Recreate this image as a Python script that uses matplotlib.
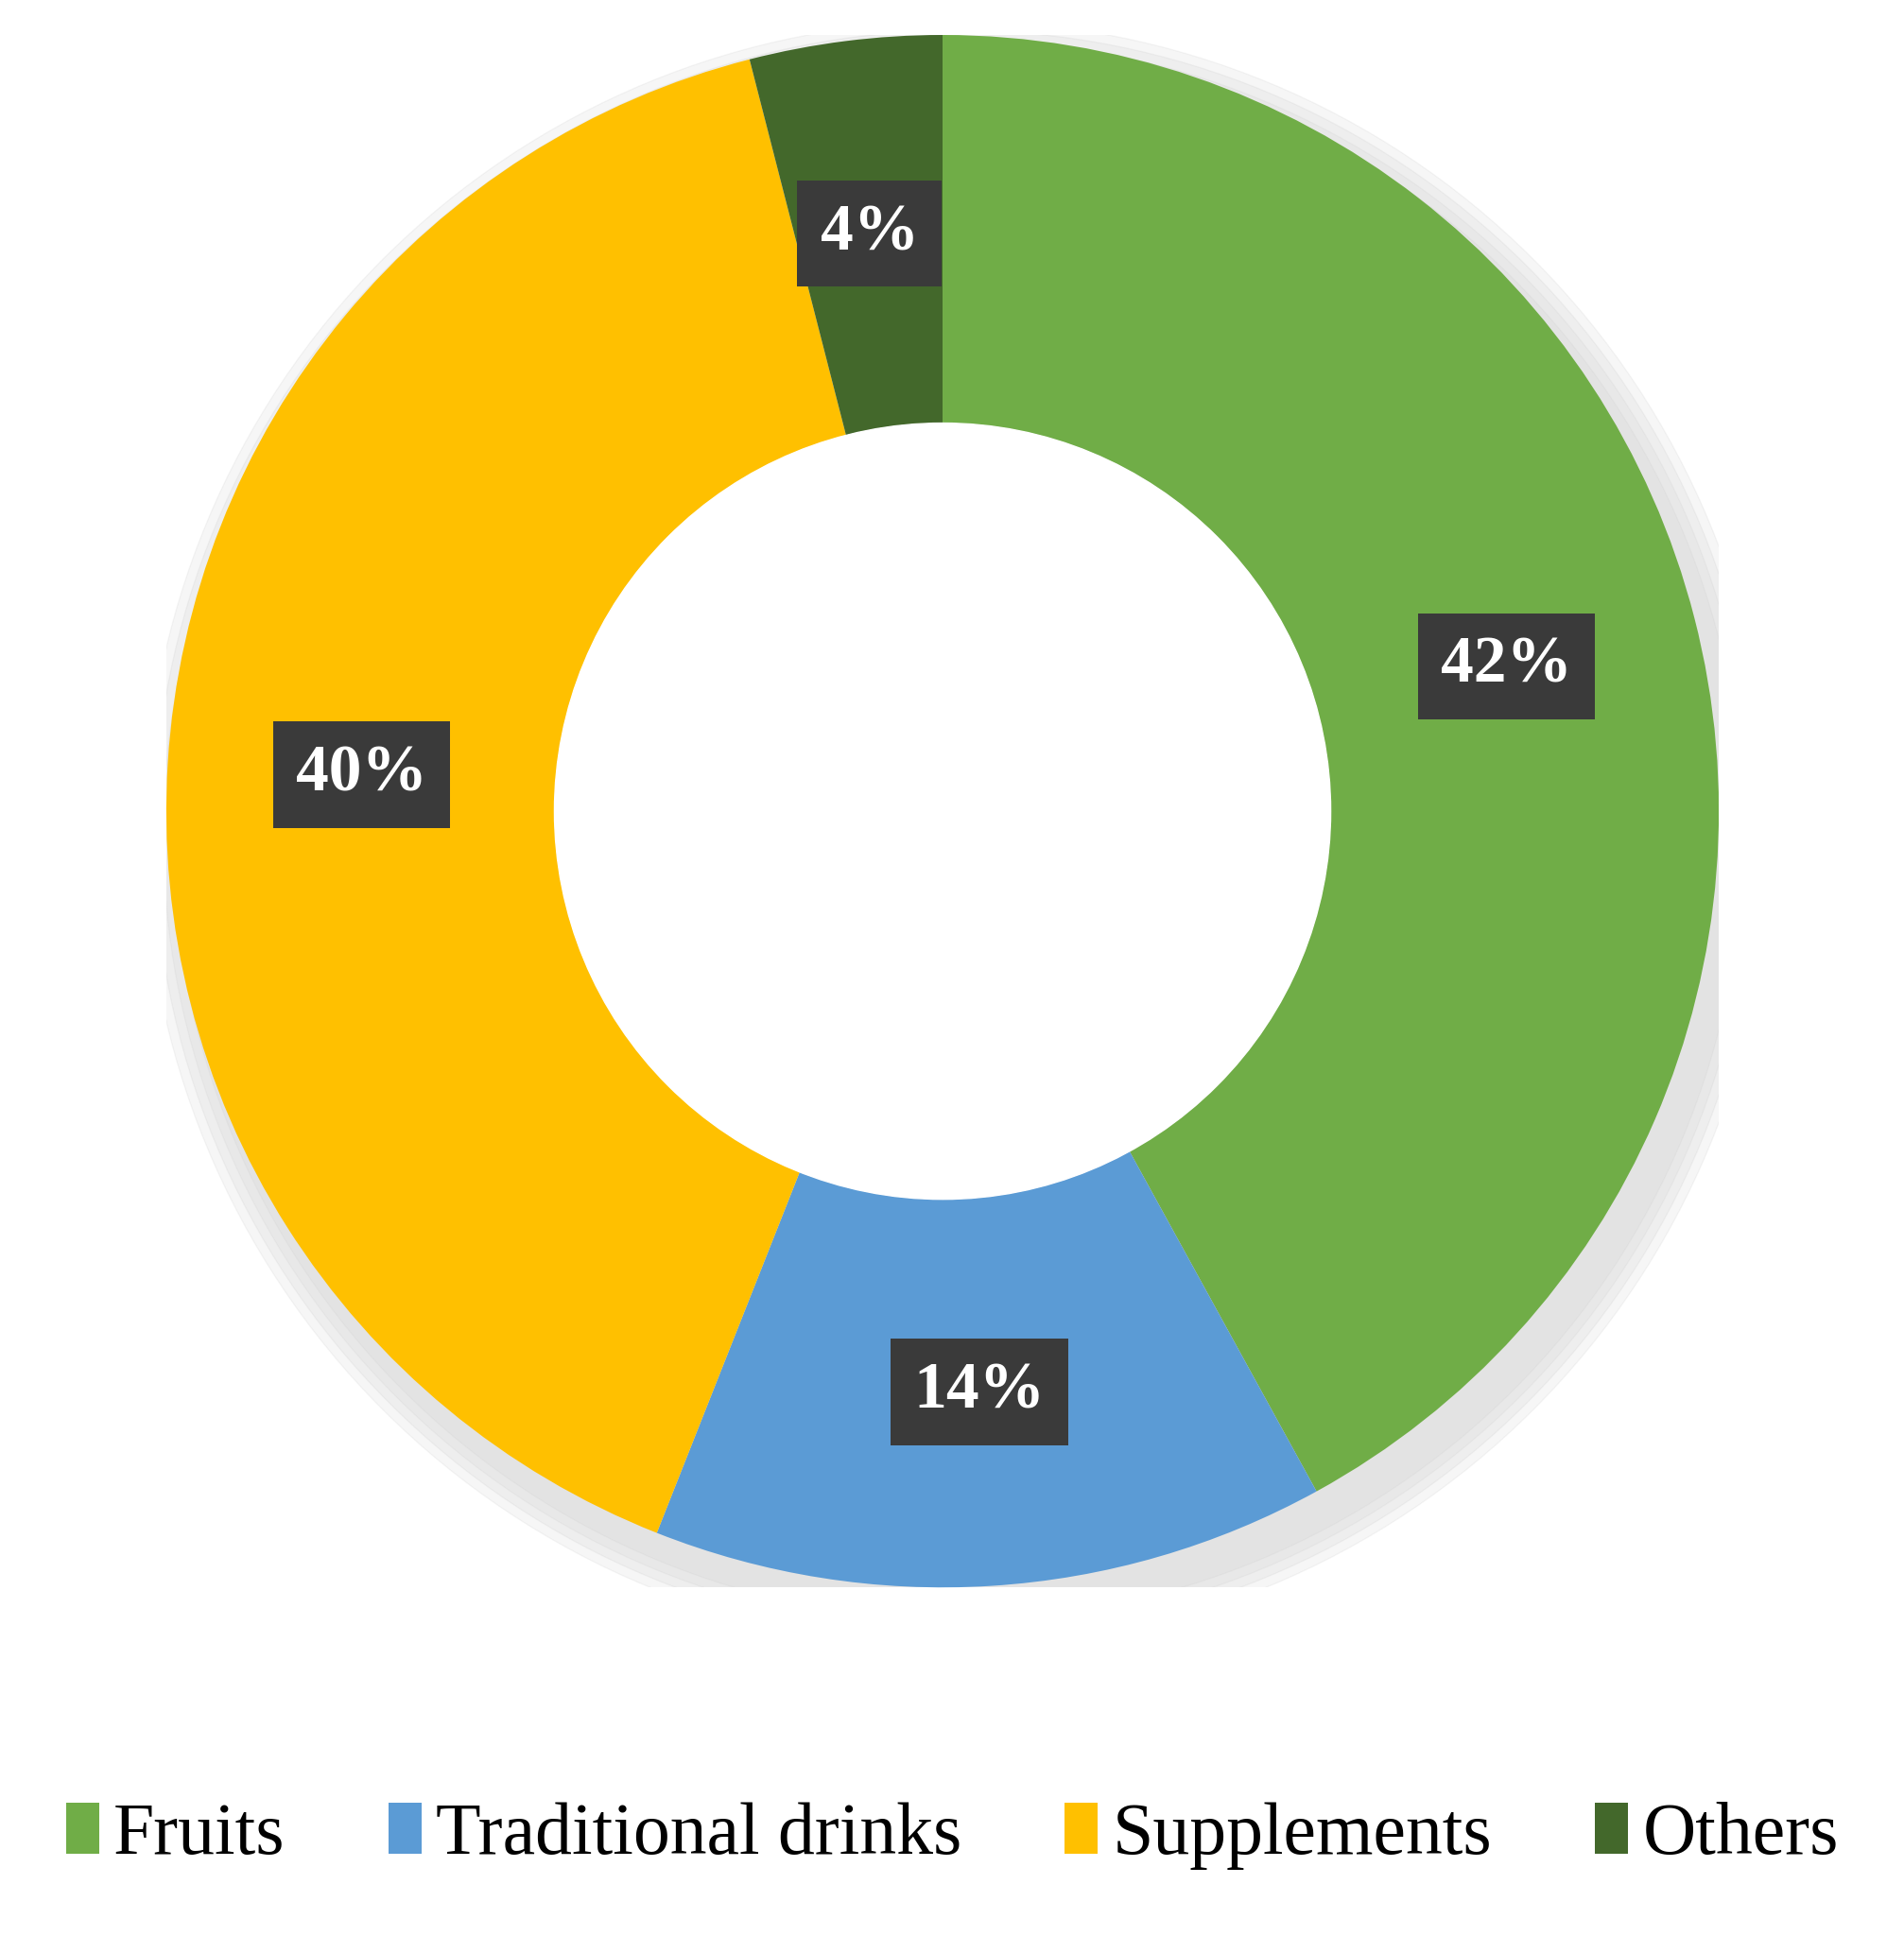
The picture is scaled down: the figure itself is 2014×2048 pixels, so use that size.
import matplotlib
matplotlib.use("Agg")
import matplotlib.pyplot as plt
from matplotlib.patches import Patch

categories = ["Fruits", "Traditional drinks", "Supplements", "Others"]
shares = [42, 14, 40, 4]
colors = ["#70AD47", "#5B9BD5", "#FFC000", "#43682B"]

fig = plt.figure(figsize=(20.15, 20.48), dpi=100)
ax = fig.add_axes([0.0873, 0.18, 0.815, 0.802])

# soft shadow behind ring
for i, a in enumerate([0.035, 0.03, 0.025, 0.02]):
    sh = plt.Circle((0.02, -0.03), 1.0 + 0.012 * (4 - i), color="black", alpha=a, zorder=0)
    ax.add_patch(sh)

wedges, _ = ax.pie(shares, colors=colors, startangle=90, counterclock=False,
                   radius=1.0, wedgeprops=dict(width=0.5, linewidth=0))
ax.add_patch(plt.Circle((0, 0), 0.5, color="white", zorder=3))

import numpy as np
start = 90.0
for v in shares:
    mid = np.deg2rad(start - v * 3.6 / 2)
    start -= v * 3.6
    ax.text(0.75 * np.cos(mid), 0.75 * np.sin(mid), f"{v}%", ha="center", va="center",
            fontsize=50, fontweight="bold", color="white", family="Liberation Serif",
            zorder=5,
            bbox=dict(boxstyle="square,pad=0.35", fc="#3A3A3A", ec="none"))

ax.set_xlim(-1, 1)
ax.set_ylim(-1, 1)
ax.set_aspect("equal")
ax.axis("off")

handles = [Patch(facecolor=c, edgecolor="none") for c in colors]
fig.legend(handles, categories, loc="lower center", bbox_to_anchor=(0.5, 0.0), ncol=4,
           frameon=False, prop=dict(family="Liberation Serif", size=56),
           handlelength=0.45, handleheight=0.7, handletextpad=0.2, columnspacing=1.4)

fig.savefig("out.png", dpi=100)
